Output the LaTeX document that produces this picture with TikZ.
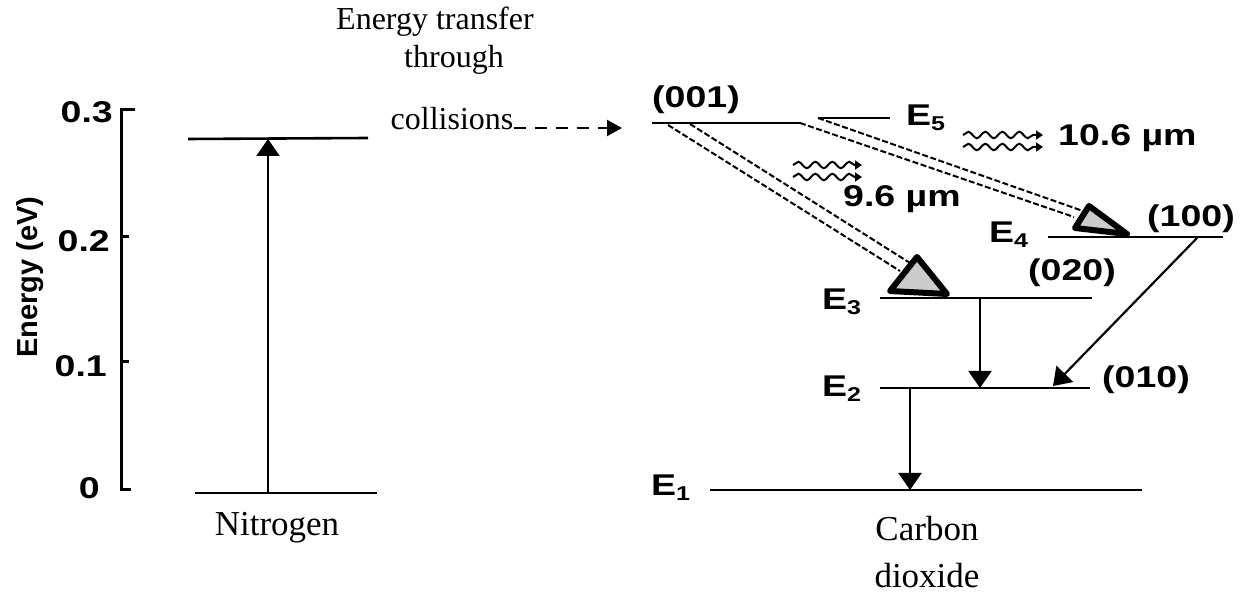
\documentclass[tikz,border=0pt]{standalone}
\usepackage{fontspec}
\setmainfont{Liberation Serif}
\newfontfamily\lsans[FakeStretch=1.25]{Liberation Sans}
\newfontfamily\lsansplain{Liberation Sans}
\usetikzlibrary{arrows.meta,decorations.pathmorphing,calc}
\newcommand{\Elev}[1]{E\raisebox{-5pt}{\fontsize{20}{20}\selectfont #1}}
\begin{document}
\begin{tikzpicture}[x=1pt,y=-1pt,
  lvl/.style={line width=2.6pt},
  axisline/.style={line width=3pt},
  tr/.style={line width=2.2pt,-{Triangle[width=23pt,length=17pt]}},
  dl/.style={line width=2pt,dash pattern=on 6pt off 2.5pt},
  wavy/.style={line width=2pt,decorate,decoration={snake,amplitude=3.2pt,segment length=17pt,post length=6pt},-{Triangle[width=9pt,length=7pt]}},
  bigtri/.style={draw=black,fill=gray!40,line width=6pt,line join=round},
  lab/.style={font=\lsans\bfseries\fontsize{30}{32}\selectfont,inner sep=0pt},
  tick/.style={font=\lsans\bfseries\fontsize{30}{32}\selectfont,inner sep=0pt,anchor=east},
  serif/.style={font=\fontsize{35}{40}\selectfont,inner sep=0pt,anchor=base},
  serifs/.style={font=\fontsize{32}{36}\selectfont,inner sep=0pt,anchor=base},
  dasharrow/.style={line width=2.2pt,dash pattern=on 12pt off 9pt,-{Triangle[width=16pt,length=15pt]}}
]
\useasboundingbox (0,0) rectangle (1243,593);
\fill[white] (0,0) rectangle (1243,593);

% axis
\draw[axisline] (135,110) -- (121,110) -- (121,490) -- (131,490);
\draw[axisline] (121,237) -- (129,237);
\draw[axisline] (121,362) -- (129,362);
\node[tick] (t3) at (113,112) {0.3};
\node[tick] (t2) at (110,241) {0.2};
\node[tick] (t1) at (107,366) {0.1};
\node[tick] (t0) at (100,488) {0};
\node[rotate=90,font=\lsansplain\bfseries\fontsize{29}{30}\selectfont,inner sep=0pt] (ylab) at (30,277) {Energy (eV)};

% nitrogen
\coordinate (n1a) at (188,139);
\coordinate (n1b) at (368,138);
\coordinate (n0a) at (195,493);
\coordinate (n0b) at (377,493);
\draw[lvl] (n1a) -- (n1b);
\draw[lvl] (n0a) -- (n0b);
\coordinate (nup) at (268,139);
\coordinate (ndn) at (268,493);
\draw[tr] (ndn) -- (nup);
\node[serif] (nit) at (277,535) {Nitrogen};

% energy transfer
\node[serifs] (et1) at (435,30) {Energy transfer};
\node[serifs] (et2) at (454,68) {through};
\node[serifs] (et3) at (452,130) {collisions};
\coordinate (dend) at (622,128);
\draw[dasharrow] (et3.base east |- dend) -- (dend);

% CO2 levels
\coordinate (l5a) at (652,123);
\coordinate (l5b) at (800,123);
\coordinate (l5c) at (818,118);
\coordinate (l5d) at (890,118);
\draw[lvl] (l5a) -- (l5b);
\draw[lvl] (l5c) -- (l5d);
\coordinate (l4a) at (1048,237);
\coordinate (l4b) at (1223,237);
\draw[lvl] (l4a) -- (l4b);
\coordinate (l3a) at (880,298);
\coordinate (l3b) at (1092,298);
\draw[lvl] (l3a) -- (l3b);
\coordinate (l2a) at (880,388);
\coordinate (l2b) at (1090,388);
\draw[lvl] (l2a) -- (l2b);
\coordinate (l1a) at (710,490);
\coordinate (l1b) at (1142,490);
\draw[lvl] (l1a) -- (l1b);

% labels
\node[lab,anchor=base] (c001) at (696,108) {(001)};
\node[lab,anchor=base west] (e5) at (906,126) {\Elev{5}};
\node[lab,anchor=base west] (e4) at (989,243) {\Elev{4}};
\node[lab,anchor=base west] (e3) at (822,310) {\Elev{3}};
\node[lab,anchor=base west] (e2) at (822,397) {\Elev{2}};
\node[lab,anchor=base west] (e1) at (651,496) {\Elev{1}};
\node[lab] (c100) at (1191,219) {(100)};
\node[lab] (c020) at (1072,273) {(020)};
\node[lab] (c010) at (1146,380) {(010)};
\node[lab,anchor=base west] (w96) at (843,207) {9.6 \textmu m};
\node[lab,anchor=base west] (w106) at (1058,146) {10.6 \textmu m};

% double-line transitions
\coordinate (a1s) at (668,125);
\coordinate (a1e) at (900,271);
\coordinate (a2s) at (690,124);
\coordinate (a2e) at (910,263);
\draw[dl] (a1s) -- (a1e);
\draw[dl] (a2s) -- (a2e);
\coordinate (b1s) at (800,123);
\coordinate (b1e) at (1074,217);
\coordinate (b2s) at (818,118);
\coordinate (b2e) at (1083,211);
\draw[dl] (b1s) -- (b1e);
\draw[dl] (b2s) -- (b2e);
\draw[bigtri] (917,257) -- (890,291) -- (947,294) -- cycle;
\draw[bigtri] (1089,206) -- (1075,228) -- (1127,234) -- cycle;

% wavy photons
\coordinate (wa1) at (793,165); \coordinate (wa2) at (862,165);
\coordinate (wb1) at (793,177); \coordinate (wb2) at (862,177);
\draw[wavy] (wa1) -- (wa2);
\draw[wavy] (wb1) -- (wb2);
\coordinate (wc1) at (963,135); \coordinate (wc2) at (1043,135);
\coordinate (wd1) at (963,147); \coordinate (wd2) at (1043,147);
\draw[wavy] (wc1) -- (wc2);
\draw[wavy] (wd1) -- (wd2);

% decay arrows
\coordinate (d43s) at (1197,238);
\coordinate (d43e) at (1053,386);
\draw[tr] (d43s) -- (d43e);
\coordinate (d32s) at (980,298);
\coordinate (d32e) at (980,388);
\draw[tr] (d32s) -- (d32e);
\coordinate (d21s) at (910,388);
\coordinate (d21e) at (910,490);
\draw[tr] (d21s) -- (d21e);

\node[serif] (co2a) at (927,540) {Carbon};
\node[serif] (co2b) at (927,587) {dioxide};
\end{tikzpicture}
\end{document}
